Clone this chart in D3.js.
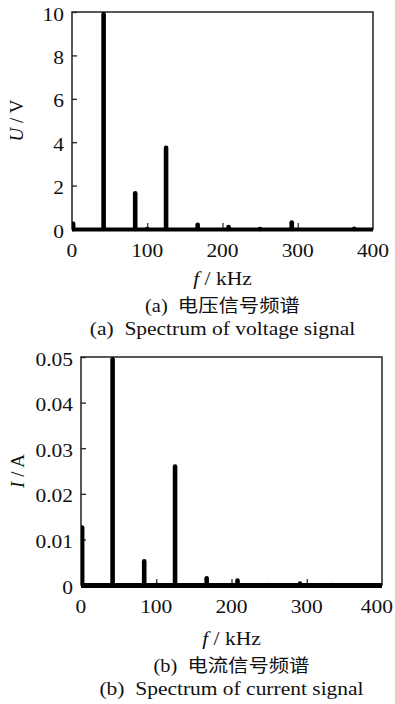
<!DOCTYPE html>
<html>
<head>
<meta charset="utf-8">
<script src="https://cdn.jsdelivr.net/npm/d3@7"></script>
<style>
  body { margin: 0; background: #fff; }
  svg { display: block; }
  text { font-family: "Liberation Serif", "Times New Roman", serif; fill: #111; white-space: pre; }
  .cjk { font-family: "Liberation Serif", "Noto Sans CJK SC", serif; }
</style>
</head>
<body>
<div id="chart-area"></div>
<script>
// voltage spectrum (a)
var voltFreq = [1.5, 42, 84, 100, 125, 167, 208, 250, 292, 375];
var voltAmp  = [0.35, 10, 1.75, 0.06, 3.85, 0.3, 0.2, 0.05, 0.4, 0.12];
var voltTicks = [0, 2, 4, 6, 8, 10];

// current spectrum (b)
var currFreq = [1.5, 42, 84, 101, 125, 167, 208, 250, 291, 333];
var currAmp  = [0.0131, 0.05, 0.0057, 0.0003, 0.0265, 0.002, 0.0015, 0.0002, 0.0008, 0.0003];
var currTicks = [0, 0.01, 0.02, 0.03, 0.04, 0.05];

var freqTicks = [0, 100, 200, 300, 400];
var stretch = 1.13;   // source figure is a bit wide

var svg = d3.select("#chart-area")
    .append("svg")
    .attr("width", 395)
    .attr("height", 704);

function widen(sel) {
    sel.each(function() {
        var w = this.getComputedTextLength();
        d3.select(this)
            .attr("textLength", w * stretch)
            .attr("lengthAdjust", "spacingAndGlyphs");
    });
}

function drawPanel(id, freq, amp, ticks, yMax, box, yFmt, yName, yUnit, capCn, capEn) {
    var x = d3.scaleLinear().domain([0, 400]).range([box.left, box.right]);
    var y = d3.scaleLinear().domain([0, yMax]).range([box.bottom, box.top]);
    var g = svg.append("g").attr("id", id);

    g.append("clipPath").attr("id", id + "-clip")
        .append("rect")
        .attr("x", box.left).attr("y", box.top)
        .attr("width", box.right - box.left)
        .attr("height", box.bottom - box.top + 4);

    // frame
    g.append("rect")
        .attr("x", box.left).attr("y", box.top)
        .attr("width", box.right - box.left)
        .attr("height", box.bottom - box.top)
        .attr("fill", "none")
        .attr("stroke", "#222")
        .attr("stroke-width", 1.5);

    // inward y ticks
    var yAxis = d3.axisRight(y).tickValues(ticks).tickSize(5).tickFormat("");
    g.append("g")
        .attr("transform", "translate(" + box.left + ",0)")
        .call(yAxis)
        .call(a => a.select(".domain").remove())
        .selectAll("line").attr("stroke", "#222").attr("stroke-width", 1.3);

    g.selectAll(".ylab")
        .data(ticks)
        .enter().append("text")
        .attr("class", "ylab")
        .attr("x", box.left - 8)
        .attr("y", d => y(d) + 2)
        .attr("dy", "0.35em")
        .attr("text-anchor", "end")
        .attr("font-size", "19px")
        .text(yFmt)
        .call(widen);

    // inward x ticks
    var xAxis = d3.axisTop(x).tickValues([100, 200, 300]).tickSize(6).tickFormat("");
    g.append("g")
        .attr("transform", "translate(0," + box.bottom + ")")
        .call(xAxis)
        .call(a => a.select(".domain").remove())
        .selectAll("line").attr("stroke", "#222").attr("stroke-width", 1.2);

    g.selectAll(".xlab")
        .data(freqTicks)
        .enter().append("text")
        .attr("class", "xlab")
        .attr("x", d => x(d))
        .attr("y", box.bottom + 28)
        .attr("text-anchor", "middle")
        .attr("font-size", "19px")
        .text(d => d)
        .call(widen)
        .each(function() {
            // keep the last label inside the page
            var t = d3.select(this);
            var half = +t.attr("textLength") / 2;
            if (+t.attr("x") + half > 393) t.attr("x", 393 - half);
        });

    // spectrum
    var spec = g.append("g").attr("clip-path", "url(#" + id + "-clip)");
    spec.append("line")
        .attr("x1", x(0)).attr("x2", x(400))
        .attr("y1", y(0) + 0.5).attr("y2", y(0) + 0.5)
        .attr("stroke", "#000")
        .attr("stroke-width", box.base);

    spec.selectAll(".peak")
        .data(freq.map((f, i) => ({f: f, a: amp[i]})))
        .enter().append("line")
        .attr("class", "peak")
        .attr("x1", d => x(d.f)).attr("x2", d => x(d.f))
        .attr("y1", y(0))
        .attr("y2", d => Math.min(y(0), y(d.a) + 2.3))
        .attr("stroke", "#000")
        .attr("stroke-width", 4.6)
        .attr("stroke-linecap", "round");

    // axis titles
    var cy = (box.top + box.bottom) / 2;
    var yt = g.append("text")
        .attr("transform", "translate(" + box.yTitleX + "," + cy + ") rotate(-90)")
        .attr("text-anchor", "middle")
        .attr("font-size", "19px");
    yt.append("tspan").attr("font-style", "italic").text(yName);
    yt.append("tspan").text(" / " + yUnit);

    var cx = (box.left + box.right) / 2;
    var xt = g.append("text")
        .attr("x", cx)
        .attr("y", box.xTitleY)
        .attr("text-anchor", "middle")
        .attr("font-size", "19px");
    xt.append("tspan").attr("font-style", "italic").text("f");
    xt.append("tspan").text(" / kHz");
    xt.call(widen);

    g.append("text")
        .attr("class", "cjk")
        .attr("x", cx)
        .attr("y", box.xTitleY + 27)
        .attr("text-anchor", "middle")
        .attr("font-size", "18px")
        .text(capCn)
        .call(widen);

    g.append("text")
        .attr("x", cx)
        .attr("y", box.xTitleY + 50)
        .attr("text-anchor", "middle")
        .attr("font-size", "19px")
        .text(capEn)
        .call(widen);
}

drawPanel("volt", voltFreq, voltAmp, voltTicks, 10,
    {left: 72, right: 373, top: 12, bottom: 229, yTitleX: 23, xTitleY: 285, base: 4},
    d => d, "U", "V",
    "(a)  电压信号频谱", "(a)  Spectrum of voltage signal");

drawPanel("curr", currFreq, currAmp, currTicks, 0.05,
    {left: 81, right: 382, top: 357, bottom: 585, yTitleX: 24, xTitleY: 645, base: 5},
    d => d === 0 ? "0" : d3.format(".2f")(d), "I", "A",
    "(b)  电流信号频谱", "(b)  Spectrum of current signal");
</script>
</body>
</html>
